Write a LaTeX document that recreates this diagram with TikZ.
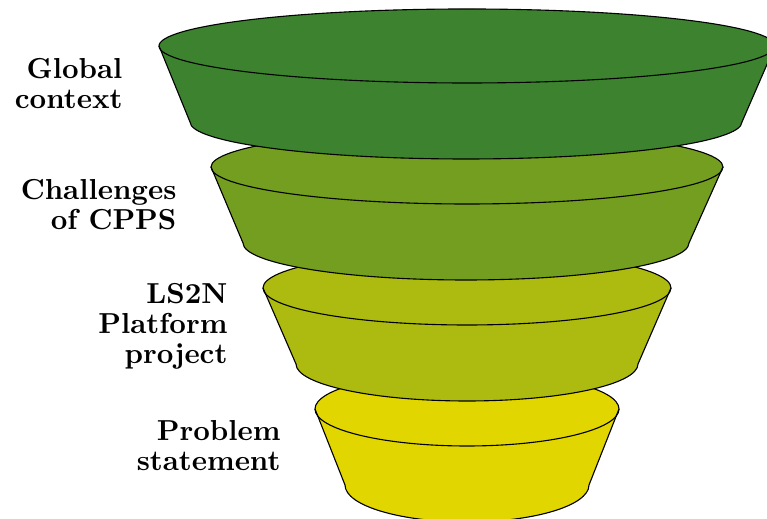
\documentclass[tikz,border=0pt]{standalone}
\usepackage{tikz}
\usetikzlibrary{positioning}
\definecolor{forestgreen}{RGB}{61,131,47}
\definecolor{olivegreen}{RGB}{115,158,32}
\definecolor{limeyellow}{RGB}{173,186,16}
\definecolor{goldyellow}{RGB}{226,214,0}

\begin{document}
\begin{tikzpicture}[x=0.36pt, y=0.36pt, layer/.style={draw=black, thin, line join=round}, rim/.style={draw=black, thin}, tag/.style={anchor=east, inner sep=0pt, align=right, font=\fontsize{10.4}{10.8}\selectfont\bfseries}]
    \useasboundingbox (0,0) rectangle (767,519);
    \clip (0,0) rectangle (767,519);
    % lowest layer first, each upper layer hides the rim below it
    \filldraw[layer, fill=goldyellow] (315,110) arc[start angle=180, end angle=0, x radius=152, y radius=37] -- (589,34) arc[start angle=0, end angle=-180, x radius=122, y radius=37] -- cycle;
    \draw[rim] (315,110) arc[start angle=180, end angle=360, x radius=152, y radius=37];
    \filldraw[layer, fill=limeyellow] (263,231) arc[start angle=180, end angle=0, x radius=204, y radius=37] -- (638,155) arc[start angle=0, end angle=-180, x radius=171, y radius=37] -- cycle;
    \draw[rim] (263,231) arc[start angle=180, end angle=360, x radius=204, y radius=37];
    \filldraw[layer, fill=olivegreen] (211,352) arc[start angle=180, end angle=0, x radius=256, y radius=37] -- (689,276) arc[start angle=0, end angle=-180, x radius=223, y radius=37] -- cycle;
    \draw[rim] (211,352) arc[start angle=180, end angle=360, x radius=256, y radius=37];
    \filldraw[layer, fill=forestgreen] (159,473) arc[start angle=180, end angle=0, x radius=308, y radius=37] -- (742,397) arc[start angle=0, end angle=-180, x radius=276, y radius=37] -- cycle;
    \draw[rim] (159,473) arc[start angle=180, end angle=360, x radius=308, y radius=37];
    % labels
    \node[tag] (global)    at (123,435) {Global\\context};
    \node[tag] (challenge) at (177,314) {Challenges\\of CPPS};
    \node[tag] (platform)  at (228,193) {LS2N\\Platform\\project};
    \node[tag] (problem)   at (281,73)  {Problem\\statement};
\end{tikzpicture}
\end{document}
